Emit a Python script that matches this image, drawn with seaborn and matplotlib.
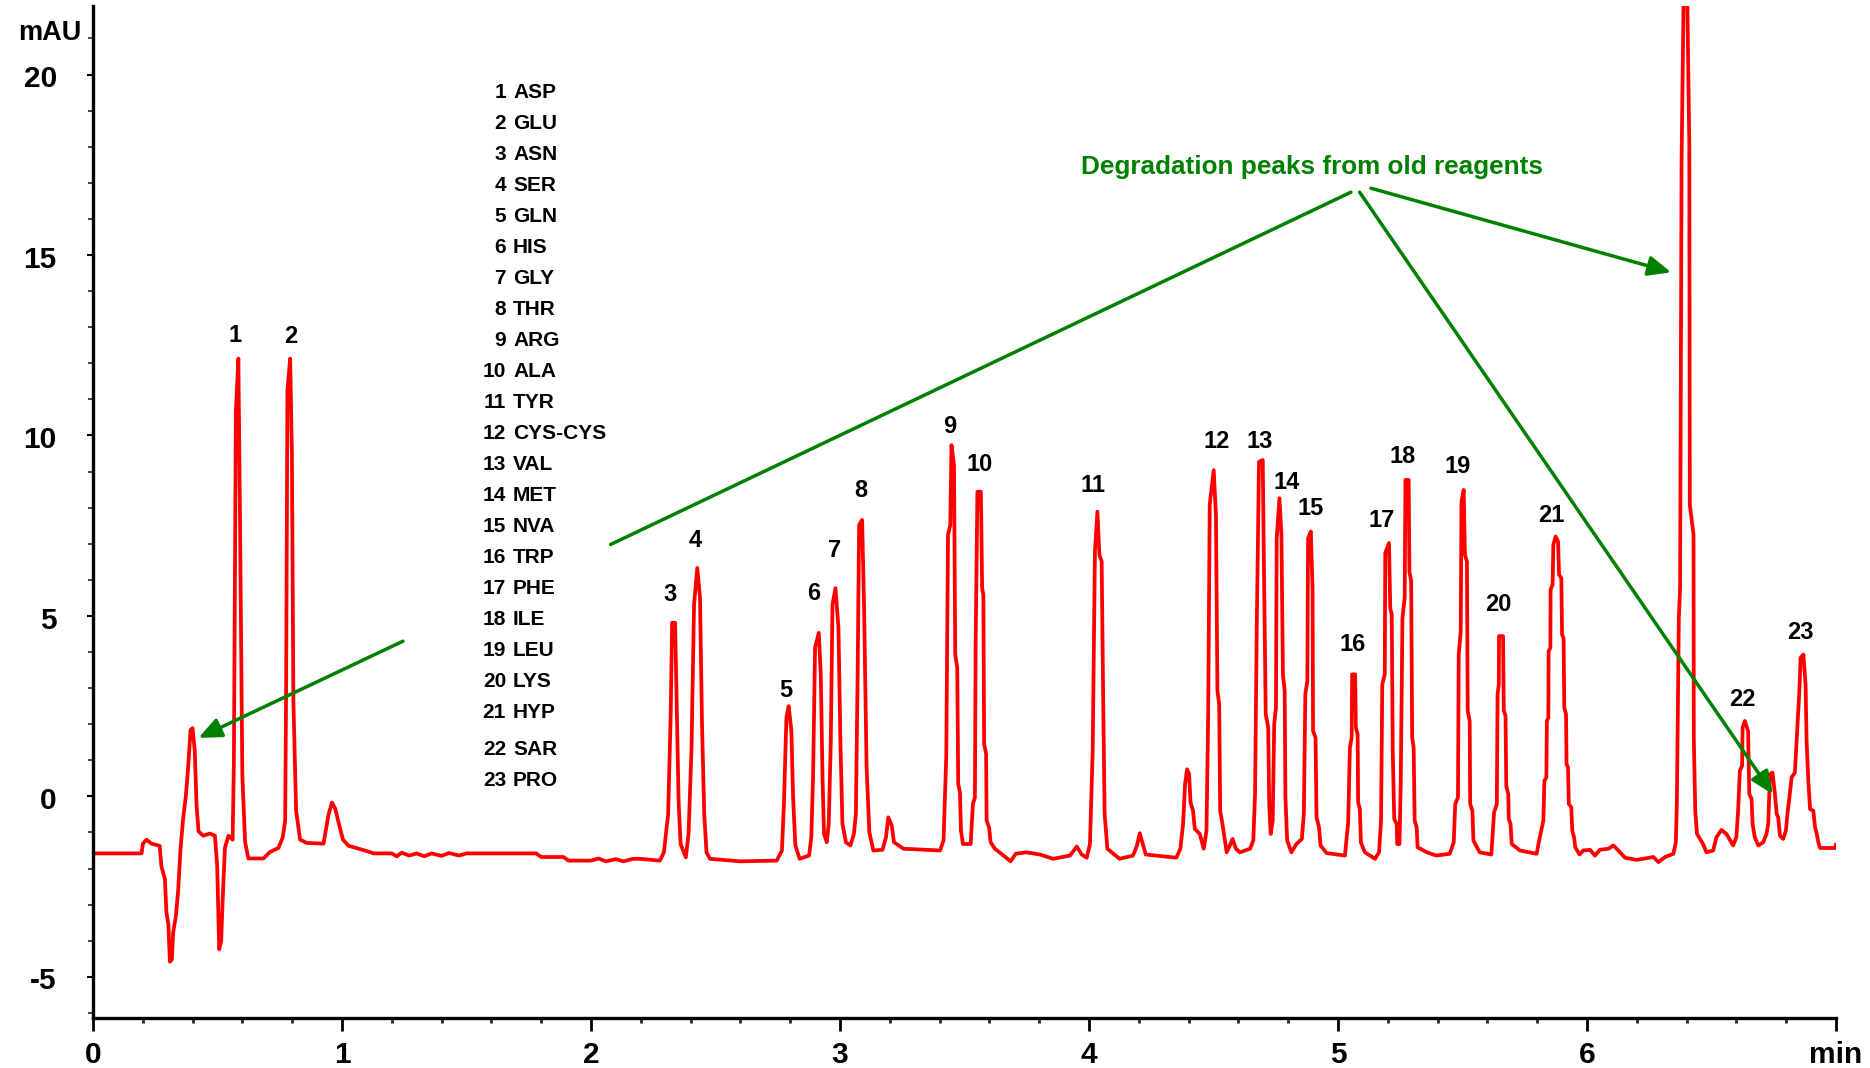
import numpy as np
import pandas as pd
import matplotlib
matplotlib.use("Agg")
import matplotlib.pyplot as plt
import matplotlib.transforms as mtransforms
import seaborn as sns

# ---------------- data ----------------
# segment 0 - 1.13 min
t_a = [0.000, 0.195, 0.201, 0.215, 0.235, 0.268, 0.275, 0.289, 0.295, 0.303, 0.309, 0.317,
       0.322, 0.333, 0.342, 0.352, 0.362, 0.373, 0.383, 0.392, 0.400, 0.409, 0.416, 0.424,
       0.443, 0.470, 0.490, 0.499, 0.507, 0.515, 0.521, 0.530, 0.544, 0.561, 0.566, 0.574,
       0.584, 0.591, 0.600, 0.611, 0.624, 0.685, 0.711, 0.745, 0.762, 0.772, 0.776, 0.781,
       0.792, 0.799, 0.805, 0.816, 0.832, 0.859, 0.926, 0.946, 0.960, 0.973, 0.987, 1.004,
       1.027, 1.087, 1.128]
v_a = [-1.58, -1.58, -1.31, -1.20, -1.31, -1.37, -1.94, -2.29, -3.21, -3.55, -4.58, -4.52,
       -3.78, -3.32, -2.63, -1.43, -0.63, 0.00, 0.86, 1.84, 1.89, 1.26, -0.23, -0.97,
       -1.09, -1.03, -1.09, -1.94, -4.24, -4.01, -2.86, -1.43, -1.09, -1.20, 0.92, 10.66,
       12.13, 7.45, 0.58, -1.26, -1.72, -1.72, -1.54, -1.43, -1.14, -0.68, 3.21, 11.24,
       12.13, 9.52, 2.64, -0.40, -1.20, -1.29, -1.31, -0.51, -0.17, -0.34, -0.74, -1.20,
       -1.37, -1.49, -1.58]

# baseline 1.2 - 2.2 min
t_b = [1.20, 1.22, 1.24, 1.27, 1.30, 1.33, 1.36, 1.40, 1.43, 1.47, 1.50, 1.78, 1.80, 1.89,
       1.91, 2.00, 2.03, 2.06, 2.10, 2.13, 2.17]
v_b = [-1.58, -1.66, -1.56, -1.64, -1.58, -1.66, -1.58, -1.65, -1.57, -1.64, -1.58, -1.58,
       -1.68, -1.68, -1.78, -1.78, -1.72, -1.80, -1.74, -1.80, -1.73]

# 2.2 - 3.42 min (peaks 3-8)
t_c = [2.196, 2.277, 2.293, 2.310, 2.320, 2.326, 2.338, 2.344, 2.352, 2.360, 2.381, 2.392,
       2.404, 2.414, 2.427, 2.438, 2.446, 2.455, 2.464, 2.478, 2.599, 2.746, 2.767, 2.775,
       2.785, 2.794, 2.805, 2.812, 2.821, 2.838, 2.876, 2.885, 2.892, 2.900, 2.915, 2.923,
       2.930, 2.936, 2.947, 2.955, 2.963, 2.970, 2.982, 2.994, 3.002, 3.010, 3.024, 3.042,
       3.056, 3.064, 3.071, 3.077, 3.089, 3.097, 3.107, 3.118, 3.134, 3.171, 3.185, 3.194,
       3.208, 3.217, 3.255, 3.402, 3.416]
v_c = [-1.73, -1.78, -1.55, -0.49, 2.18, 4.81, 4.81, 2.64, -0.12, -1.32, -1.69, -1.04,
       1.35, 5.31, 6.33, 5.50, 2.00, -0.49, -1.55, -1.73, -1.80, -1.78, -1.50, -0.21,
       2.18, 2.50, 1.81, -0.07, -1.36, -1.73, -1.64, -1.13, 0.52, 4.12, 4.53, 3.38,
       0.52, -1.04, -1.27, -0.76, 1.45, 5.31, 5.77, 4.67, 1.45, -0.76, -1.27, -1.36,
       -1.04, -0.49, 3.38, 7.52, 7.66, 5.22, 0.80, -0.99, -1.50, -1.48, -1.13, -0.58,
       -0.81, -1.27, -1.45, -1.50, -1.22]

# 3.42 - 4.77 min (peaks 9-14)
t_d = [3.427, 3.434, 3.443, 3.448, 3.458, 3.463, 3.471, 3.475, 3.482, 3.486, 3.494, 3.525,
       3.534, 3.542, 3.545, 3.552, 3.566, 3.571, 3.576, 3.579, 3.587, 3.589, 3.599, 3.605,
       3.622, 3.648, 3.685, 3.706, 3.749, 3.803, 3.856, 3.924, 3.951, 3.971, 3.991, 4.004,
       4.015, 4.024, 4.034, 4.042, 4.051, 4.058, 4.063, 4.074, 4.123, 4.177, 4.193, 4.204,
       4.214, 4.228, 4.351, 4.367, 4.378, 4.386, 4.394, 4.402, 4.408, 4.418, 4.425, 4.445,
       4.461, 4.472, 4.479, 4.485, 4.501, 4.510, 4.516, 4.523, 4.527, 4.536, 4.553, 4.566,
       4.577, 4.590, 4.606, 4.647, 4.660, 4.667, 4.674, 4.683, 4.698, 4.703, 4.710, 4.720,
       4.724, 4.730, 4.738, 4.744, 4.751, 4.754, 4.765]
v_d = [1.12, 7.25, 7.52, 9.73, 9.18, 3.93, 3.56, 0.34, 0.11, -0.95, -1.32, -1.32,
       -0.21, -0.03, 4.30, 8.44, 8.44, 5.77, 5.59, 1.45, 1.17, -0.67, -0.86, -1.27,
       -1.45, -1.59, -1.80, -1.59, -1.55, -1.61, -1.73, -1.64, -1.39, -1.61, -1.70, -1.32,
       1.26, 6.79, 7.89, 6.69, 6.51, 2.18, -0.49, -1.45, -1.73, -1.64, -1.36, -1.02,
       -1.27, -1.61, -1.70, -1.45, -0.76, 0.34, 0.75, 0.62, -0.17, -0.40, -0.90, -1.04,
       -1.45, -0.95, 2.37, 8.08, 9.04, 7.80, 2.92, 2.55, -0.40, -0.76, -1.55, -1.36,
       -1.18, -1.45, -1.55, -1.45, -1.22, 0.06, 4.76, 9.27, 9.32, 6.23, 2.27, 1.91,
       -0.26, -1.04, -0.67, 2.00, 2.46, 7.15, 8.26]

# 4.77 - 5.97 min (peaks 14-21)
t_e = [4.773, 4.779, 4.786, 4.789, 4.796, 4.813, 4.833, 4.855, 4.863, 4.869, 4.877, 4.880,
       4.891, 4.898, 4.900, 4.910, 4.914, 4.924, 4.930, 4.954, 5.028, 5.041, 5.048, 5.055,
       5.057, 5.069, 5.072, 5.079, 5.081, 5.088, 5.092, 5.108, 5.149, 5.165, 5.173, 5.178,
       5.188, 5.190, 5.205, 5.210, 5.216, 5.220, 5.226, 5.236, 5.238, 5.247, 5.252, 5.259,
       5.268, 5.271, 5.284, 5.287, 5.294, 5.298, 5.304, 5.308, 5.316, 5.320, 5.357, 5.395,
       5.449, 5.465, 5.471, 5.482, 5.485, 5.493, 5.496, 5.505, 5.510, 5.518, 5.521, 5.529,
       5.531, 5.540, 5.544, 5.569, 5.616, 5.627, 5.638, 5.641, 5.646, 5.647, 5.663, 5.666,
       5.673, 5.676, 5.684, 5.686, 5.693, 5.698, 5.731, 5.798, 5.808, 5.825, 5.829, 5.837,
       5.839, 5.845, 5.846, 5.853, 5.854, 5.862, 5.865, 5.874, 5.884, 5.888, 5.897, 5.900,
       5.906, 5.909, 5.916, 5.918, 5.924, 5.927, 5.937, 5.941, 5.948, 5.953, 5.970]
v_e = [7.25, 3.38, 2.92, -0.03, -1.22, -1.55, -1.32, -1.18, -0.49, 2.83, 3.20, 7.15,
       7.34, 5.77, 1.81, 1.63, -0.58, -0.86, -1.36, -1.57, -1.64, -0.72, 1.35, 1.63,
       3.38, 3.38, 1.91, 1.72, -0.17, -0.35, -1.27, -1.55, -1.73, -1.55, -0.67, 3.10,
       3.38, 6.74, 7.02, 5.22, 5.04, 1.26, -0.63, -0.76, -1.32, -1.32, 0.29, 4.94,
       5.50, 8.77, 8.77, 6.23, 5.96, 1.63, 1.35, -0.67, -0.86, -1.41, -1.55, -1.64,
       -1.59, -1.27, -0.21, -0.03, 3.93, 4.58, 8.17, 8.49, 6.69, 6.51, 2.37, 2.09,
       -0.21, -0.40, -1.22, -1.55, -1.61, -0.44, -0.21, 2.83, 3.10, 4.44, 4.44, 2.37,
       2.23, 0.29, 0.06, -0.63, -0.76, -1.32, -1.50, -1.59, -1.22, -0.67, 0.43, 0.52,
       2.09, 2.18, 4.02, 4.12, 5.73, 5.87, 6.97, 7.20, 7.06, 6.14, 6.05, 4.48,
       4.39, 2.46, 2.27, 0.89, 0.80, -0.21, -0.30, -0.95, -1.13, -1.41, -1.61]

# 5.98 - 7.0 min (degradation peak, peaks 22-23)
t_f = [5.985, 6.012, 6.032, 6.052, 6.086, 6.106, 6.126, 6.153, 6.200, 6.267, 6.287, 6.314,
       6.347, 6.357, 6.361, 6.369, 6.374, 6.380, 6.395, 6.411, 6.413, 6.428, 6.429, 6.435,
       6.442, 6.466, 6.480, 6.507, 6.520, 6.540, 6.560, 6.587, 6.600, 6.607, 6.614, 6.623,
       6.625, 6.634, 6.647, 6.652, 6.661, 6.665, 6.674, 6.688, 6.708, 6.721, 6.728, 6.735,
       6.745, 6.755, 6.762, 6.768, 6.775, 6.788, 6.799, 6.805, 6.813, 6.822, 6.835, 6.842,
       6.853, 6.858, 6.869, 6.878, 6.882, 6.889, 6.896, 6.909, 6.916, 6.923, 6.929, 6.936,
       6.997, 7.000]
v_f = [-1.50, -1.48, -1.64, -1.48, -1.45, -1.36, -1.50, -1.70, -1.76, -1.68, -1.82, -1.68,
       -1.59, -1.27, -0.21, 4.95, 5.77, 17.6, 26.0, 18.1, 8.08, 7.25, 1.63, -0.40,
       -1.04, -1.32, -1.55, -1.50, -1.13, -0.93, -1.04, -1.36, -1.13, -0.40, 0.71, 0.85,
       1.91, 2.09, 1.81, 0.06, -0.07, -0.76, -1.13, -1.36, -1.27, -1.04, -0.76, 0.62,
       0.66, 0.06, -0.49, -0.58, -1.09, -1.18, -0.95, -0.49, -0.03, 0.53, 0.66, 1.54,
       2.92, 3.84, 3.93, 3.10, 1.54, 0.43, -0.35, -0.40, -0.86, -1.04, -1.27, -1.43,
       -1.43, -1.33]

peak_ids = list(range(1, 24))
compound_names = ["ASP", "GLU", "ASN", "SER", "GLN", "HIS", "GLY", "THR", "ARG", "ALA",
                  "TYR", "CYS-CYS", "VAL", "MET", "NVA", "TRP", "PHE", "ILE", "LEU", "LYS",
                  "HYP", "SAR", "PRO"]

# peak-number label positions (min, mAU)
label_x = [0.570, 0.795, 2.318, 2.419, 2.783, 2.893, 2.979, 3.084, 3.439, 3.559, 4.018,
           4.512, 4.684, 4.794, 4.890, 5.058, 5.177, 5.259, 5.480, 5.642, 5.858, 6.624, 6.859]
label_y = [12.76, 12.73, 5.59, 7.08, 2.92, 5.63, 6.81, 8.47, 10.25, 9.19, 8.60,
           9.82, 9.82, 8.70, 7.97, 4.20, 7.64, 9.42, 9.13, 5.33, 7.77, 2.69, 4.53]

x_ticks = [0, 1, 2, 3, 4, 5, 6, 7]
x_ticklabels = ["0", "1", "2", "3", "4", "5", "6", "min"]
y_ticks = [-5, 0, 5, 10, 15, 20]

annotation_text = "Degradation peaks from old reagents"

# ---------------- build frame ----------------
df = pd.DataFrame({
    "time": t_a + t_b + t_c + t_d + t_e + t_f,
    "signal": v_a + v_b + v_c + v_d + v_e + v_f,
})

# ---------------- styling ----------------
sns.set_theme(style="ticks")
plt.rcParams["font.family"] = ["Liberation Sans", "DejaVu Sans"]
plt.rcParams["font.weight"] = "bold"

RED = "#FF0000"
GREEN = "#008000"

fig = plt.figure(figsize=(18.70, 10.68), dpi=100)
ax = fig.add_axes([0.0497, 0.0465, 0.9321, 0.9479])

sns.lineplot(data=df, x="time", y="signal", ax=ax, color=RED, lw=2.7,
             estimator=None, sort=False, legend=False)

ax.set_xlim(0, 7)
ax.set_ylim(-6.15, 21.9)
ax.set_xlabel("")
ax.set_ylabel("")

ax.set_xticks(x_ticks)
ax.set_xticklabels(x_ticklabels)
ax.set_yticks(y_ticks)
ax.set_yticklabels([str(v) for v in y_ticks])
ax.set_xticks(np.arange(0, 7.001, 0.2), minor=True)
ax.set_yticks(np.arange(-6, 21.5, 1), minor=True)

for s in ["top", "right"]:
    ax.spines[s].set_visible(False)
for s in ["left", "bottom"]:
    ax.spines[s].set_linewidth(2.4)
    ax.spines[s].set_color("black")

ax.tick_params(axis="x", which="major", length=9.5, width=2.0, pad=7,
               labelsize=21.5, colors="black")
ax.tick_params(axis="x", which="minor", length=3.5, width=2.0)
ax.tick_params(axis="y", which="major", length=4.5, width=1.5, pad=21.5,
               labelsize=21.5, colors="black")
ax.tick_params(axis="y", which="minor", length=3.5, width=1.2)
shift = mtransforms.ScaledTranslation(0, -1.2 / 72, fig.dpi_scale_trans)
for lab in ax.get_yticklabels():
    lab.set_transform(lab.get_transform() + shift)
for lab in ax.get_xticklabels() + ax.get_yticklabels():
    lab.set_fontweight("bold")

fig.text(50 / 1870, 1 - 40 / 1068, "mAU", ha="center", va="baseline",
         fontsize=19.5, fontweight="bold", color="black")

# peak number labels
for pid, lx, ly in zip(peak_ids, label_x, label_y):
    ax.text(lx, ly, str(pid), ha="center", va="center", fontsize=17,
            fontweight="bold", color="black")

# compound list
list_num_x = 1.659
list_name_x = 1.687
list_y = [19.50 - 0.859 * i for i in range(21)] + [1.30, 0.44]
for pid, name, ly in zip(peak_ids, compound_names, list_y):
    ax.text(list_num_x, ly, str(pid), ha="right", va="center", fontsize=15,
            fontweight="bold", color="black")
    ax.text(list_name_x, ly, name, ha="left", va="center", fontsize=15,
            fontweight="bold", color="black")

# green annotation
ax.text(4.895, 17.45, annotation_text, ha="center", va="center", fontsize=18.8,
        fontweight="bold", color=GREEN)

arrow_style = "-|>,head_length=0.55,head_width=0.24"
arrows = [((1.245, 4.30), (0.424, 1.62)),
          ((5.133, 16.85), (6.338, 14.52)),
          ((5.087, 16.74), (6.747, 0.06))]
for tail, head in arrows:
    ax.annotate("", xy=head, xytext=tail,
                arrowprops=dict(arrowstyle=arrow_style, color=GREEN, lw=2.5,
                                mutation_scale=25, shrinkA=0, shrinkB=0))
ax.annotate("", xy=(2.079, 6.98), xytext=(5.052, 16.74),
            arrowprops=dict(arrowstyle="-", color=GREEN, lw=2.5,
                            shrinkA=0, shrinkB=0))

fig.savefig("out.png", dpi=100)
